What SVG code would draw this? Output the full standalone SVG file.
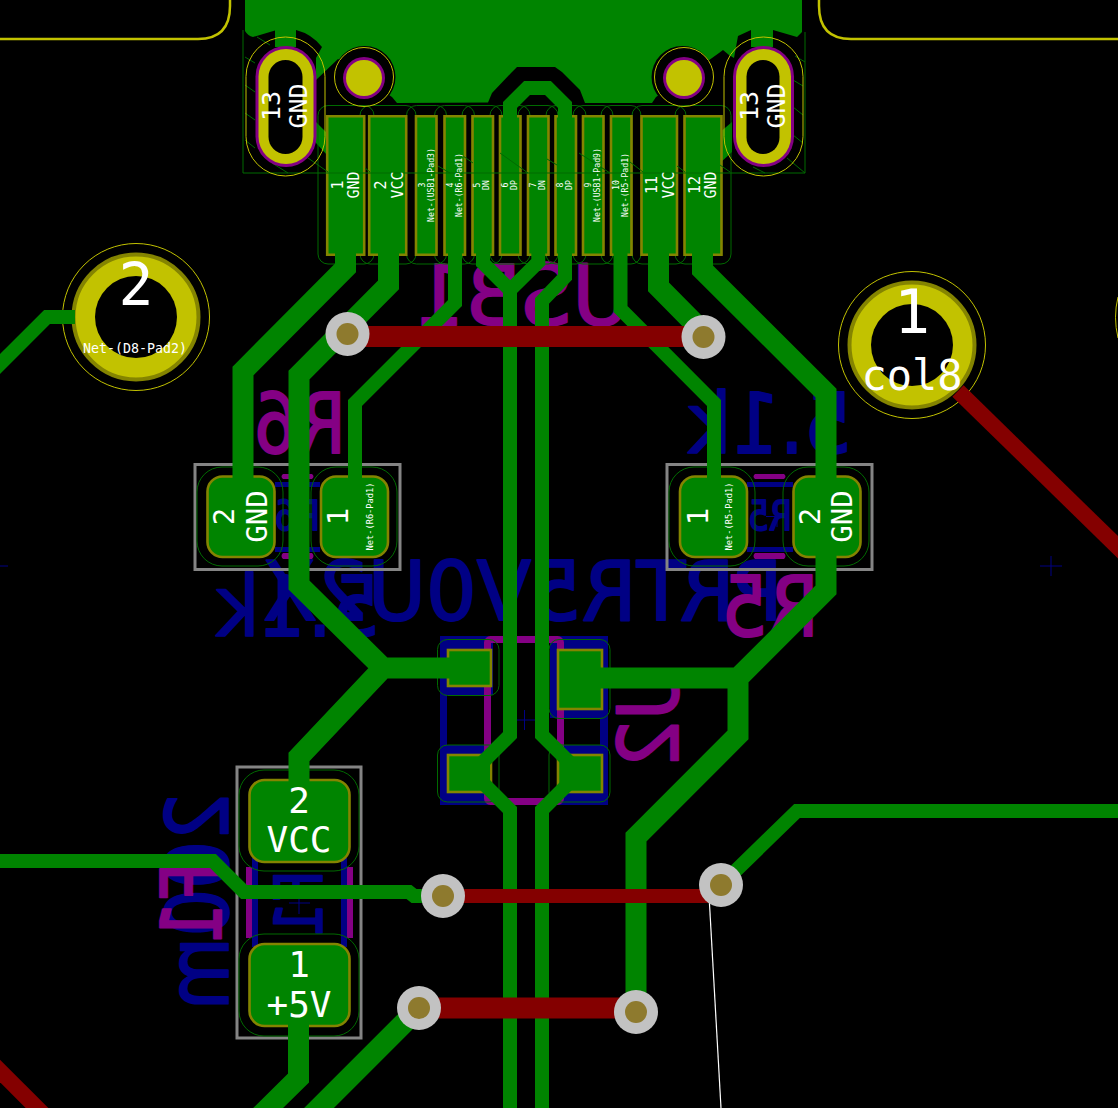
<svg xmlns="http://www.w3.org/2000/svg" width="1118" height="1108" viewBox="0 0 1118 1108">
<style>
.bg{fill:#000}
.si{font-family:"DejaVu Sans",sans-serif;stroke-linejoin:round}
.bl{fill:#000084;stroke:#000084;stroke-width:2}
.pu{fill:#840084;stroke:#840084;stroke-width:2}
.bs{fill:none;stroke:#000084;stroke-width:7;stroke-linecap:round}
.ps{fill:none;stroke:#840084;stroke-width:7;stroke-linecap:round}
.cy{fill:none;stroke:#006a00;stroke-width:1}
.yl{fill:none;stroke:#c2c200;stroke-width:1}
.edge{fill:none;stroke:#c2c200;stroke-width:2.5}
.gr{fill:none;stroke:#848484;stroke-width:3}
.pad{fill:#008400;stroke:#848400;stroke-width:2.6}
.cu{fill:none;stroke:#008400;stroke-linejoin:miter}
.fcu{fill:none;stroke:#840000}
.th{fill:#c2c200}
.zone{fill:#008400}
.viaO{fill:#c2c2c2}
.viaI{fill:#8e7a2e}
text.l{font-family:"DejaVu Sans Mono","Liberation Mono",monospace;fill:#fff;text-anchor:middle}
.hatch{fill:none;stroke:#006a00;stroke-width:1}
</style>
<rect class="bg" width="1118" height="1108"/>

<g id="silk-back">
<path class="edge" d="M0,39H198Q230,39 230,6V0"/>
<path class="edge" d="M819,0V6Q819,39 851,39H1118"/>
<path class="yl" d="M1118,297Q1113,317 1118,338"/>
<path class="cy" style="stroke:#000084" d="M1040,566H1062M1051,556V576M0,566H8M514,720H535M524.500,710V730M289,903H310M299,899V914M766,516.500H788M777,506V527"/>
<text class="si bl" font-size="82" transform="translate(783,620) scale(-1,1)" textLength="520" lengthAdjust="spacingAndGlyphs">PRTR5V0U2X</text>
<text class="si bl" font-size="84" transform="translate(852,453) scale(-1,1)" textLength="164" lengthAdjust="spacingAndGlyphs">5.1k</text>
<text class="si bl" font-size="84" transform="translate(380,636) scale(-1,1)" textLength="164" lengthAdjust="spacingAndGlyphs">5.1k</text>
<text class="si bl" font-size="40" transform="translate(320,530) scale(-1,1)" textLength="45" lengthAdjust="spacingAndGlyphs">R6</text>
<text class="si bl" font-size="40" transform="translate(792,530) scale(-1,1)" textLength="44" lengthAdjust="spacingAndGlyphs">R5</text>
<text class="si bl" font-size="85" transform="translate(228,793) rotate(-90) scale(-1,1)" textLength="217" lengthAdjust="spacingAndGlyphs">200m</text>
<text class="si bl" font-size="66" transform="translate(322,870) rotate(-90) scale(-1,1)" textLength="68" lengthAdjust="spacingAndGlyphs">F1</text>
<path fill="#000084" d="M275,482H320V487H275ZM275,547H320V552H275ZM747,482H793V487H747ZM747,547H793V552H747ZM252,858H258V947H252ZM341,858H347V947H341Z"/>
<path fill="#000084" d="M440,636H493V695H447V745H492V805H440ZM550,636H608V805H557V745H600V718H550Z"/>
<text class="si pu" font-size="84" transform="translate(346,453) scale(-1,1)" textLength="92" lengthAdjust="spacingAndGlyphs">R6</text>
<text class="si pu" font-size="84" transform="translate(819,636) scale(-1,1)" textLength="98" lengthAdjust="spacingAndGlyphs">R5</text>
<text class="si pu" font-size="84" transform="translate(631,325) scale(-1,1)" textLength="216" lengthAdjust="spacingAndGlyphs">USB1</text>
<text class="si pu" font-size="84" transform="translate(678,665) rotate(-90) scale(-1,1)" textLength="103" lengthAdjust="spacingAndGlyphs">U2</text>
<text class="si pu" font-size="84" transform="translate(221,862) rotate(-90) scale(-1,1)" textLength="83" lengthAdjust="spacingAndGlyphs">F1</text>
<path fill="#840084" d="M283,474H312Q315,476.500 312,479H283Q280,476.500 283,474ZM283,553H312Q315,556 312,559H283Q280,556 283,553ZM755,474H784Q787,476.500 784,479H755Q752,476.500 755,474ZM755,553H784Q787,556 784,559H755Q752,556 755,553ZM246,867H252V938H246ZM347,867H353V938H347Z"/>
<rect class="ps" x="487.500" y="639.500" width="73" height="162" rx="3"/>
</g>

<g id="zone">
<path class="zone" d="M245,0H802V32L797,37L773,30V47H751V30L738,36L734,58L729,55L723,50L719,53L684,78L656,97L652,103H585L580,90L562,72L555,67H517L512,72L492,93L488,102.500L397,103L392,97L364,78L338,59L316,80V58L322,47A48,48 0 0 0 296,30V47H275V30.500L253,37Q248,36 245,31ZM316,122L327,133V155L316,143ZM719,133L732,122V152L720,163Z"/>
<circle cx="364.500" cy="77" r="31" fill="#000"/>
<circle cx="682.500" cy="77" r="31" fill="#000"/>
</g>

<g id="USB1">
<g>
<rect class="cy" x="318" y="105.500" width="56" height="158.500" rx="10"/>
<rect class="cy" x="360" y="105.500" width="56" height="158.500" rx="10"/>
<rect class="cy" x="406.500" y="105.500" width="40" height="158.500" rx="10"/>
<rect class="cy" x="434.500" y="105.500" width="40" height="158.500" rx="10"/>
<rect class="cy" x="462" y="105.500" width="40" height="158.500" rx="10"/>
<rect class="cy" x="490" y="105.500" width="40" height="158.500" rx="10"/>
<rect class="cy" x="518" y="105.500" width="40" height="158.500" rx="10"/>
<rect class="cy" x="546" y="105.500" width="40" height="158.500" rx="10"/>
<rect class="cy" x="573" y="105.500" width="40" height="158.500" rx="10"/>
<rect class="cy" x="601" y="105.500" width="40" height="158.500" rx="10"/>
<rect class="cy" x="632" y="105.500" width="54" height="158.500" rx="10"/>
<rect class="cy" x="675" y="105.500" width="56" height="158.500" rx="10"/>
</g>
<path class="pad" d="M327.200,116.200H364.200V254.800H327.200ZM369.200,116.200H406.200V254.800H369.200ZM416,116.200H436.500V254.800H416ZM444.500,116.200H465V254.800H444.500ZM472.500,116.200H493V254.800H472.500ZM500,116.200H520.500V254.800H500ZM528,116.200H548.500V254.800H528ZM555.500,116.200H576V254.800H555.500ZM583,116.200H603.500V254.800H583ZM611,116.200H631.500V254.800H611ZM641.500,116.200H677V254.800H641.500ZM684.500,116.200H721.500V254.800H684.500Z"/>
<path class="hatch" d="M243,30V173H805V32M257,37L270,45M245,57L255,63M245,85L255,92M245,113L255,120M245,140L255,148M272,163L288,173M308,158L328,172M365,168L370,172M438,166L450,173M463,156L473,163M500,153L528,173M547,159L557,165M579,153L610,173M630,162L643,172M677,166L685,172M720,165L730,172M753,167L765,173M787,158L805,173M793,80L803,86M793,107L803,115M793,135L803,143M795,56L805,62"/>
<g>
<rect x="255.500" y="46" width="61" height="121" rx="30.500" fill="#840084"/>
<rect x="258.500" y="49" width="55" height="115" rx="27.500" class="th"/>
<rect x="268.500" y="60" width="34" height="94" rx="17" fill="#000"/>
<rect class="yl" x="246" y="37" width="79" height="139" rx="39.500"/>
<rect x="733" y="46" width="61" height="121" rx="30.500" fill="#840084"/>
<rect x="736" y="49" width="55" height="115" rx="27.500" class="th"/>
<rect x="746.500" y="60" width="33" height="94" rx="16.500" fill="#000"/>
<rect class="yl" x="724" y="37" width="79" height="139" rx="39.500"/>
</g>
<g>
<circle cx="364" cy="78" r="21" fill="#840084"/><circle cx="364" cy="78" r="18" class="th"/><circle cx="364" cy="77" r="29.500" class="yl"/>
<circle cx="684" cy="78" r="21" fill="#840084"/><circle cx="684" cy="78" r="18" class="th"/><circle cx="684" cy="77" r="29.500" class="yl"/>
</g>
</g>

<g id="R6">
<rect class="gr" x="195" y="464.500" width="205" height="105"/>
<rect class="cy" x="197" y="467" width="86" height="99" rx="25"/>
<rect class="cy" x="311" y="467" width="86" height="99" rx="25"/>
<rect class="pad" x="207.500" y="476.500" width="67" height="80.500" rx="15"/>
<rect class="pad" x="321" y="476.500" width="67" height="80.500" rx="15"/>
</g>
<g id="R5">
<rect class="gr" x="667" y="464.500" width="205" height="105"/>
<rect class="cy" x="669" y="467" width="86" height="99" rx="25"/>
<rect class="cy" x="783" y="467" width="86" height="99" rx="25"/>
<rect class="pad" x="680" y="476.500" width="67" height="80.500" rx="15"/>
<rect class="pad" x="793.500" y="476.500" width="67" height="80.500" rx="15"/>
</g>
<g id="F1">
<rect class="gr" x="237" y="767" width="124" height="271"/>
<rect class="cy" x="239" y="770" width="120" height="101" rx="25"/>
<rect class="cy" x="239" y="934" width="120" height="102" rx="25"/>
<rect class="pad" x="249.500" y="780" width="100" height="82" rx="15"/>
<rect class="pad" x="249.500" y="944" width="100" height="82" rx="15"/>
</g>
<g id="U2">
<rect class="cy" x="437.500" y="639.500" width="61.500" height="56" rx="10"/>
<rect class="cy" x="549" y="639.500" width="61" height="79" rx="10"/>
<rect class="cy" x="437.500" y="745" width="61.500" height="57" rx="10"/>
<rect class="cy" x="549" y="745" width="61" height="57" rx="10"/>
<rect class="pad" x="448" y="650" width="43" height="36"/>
<rect class="pad" x="558" y="650" width="44" height="59"/>
<rect class="pad" x="448" y="755" width="43" height="37"/>
<rect class="pad" x="558" y="755" width="44" height="37"/>
</g>
<g id="D8-Pad2">
<circle cx="136" cy="317" r="62.500" fill="#c2c200" stroke="#848400" stroke-width="4"/>
<circle cx="136" cy="317" r="41" fill="#000"/>
<circle cx="136" cy="317" r="73.500" class="yl"/>
</g>
<g id="col8-Pad1">
<circle cx="912" cy="345" r="62.500" fill="#c2c200" stroke="#848400" stroke-width="4"/>
<circle cx="912" cy="345" r="41" fill="#000"/>
<circle cx="912" cy="345" r="73.500" class="yl"/>
</g>

<g id="connectors">
<g class="cu" stroke-width="21">
<path d="M345.500,250V268L243,371V480"/>
<path d="M388.500,250V285L299,375V585L383,668H455M383,668L299,757V795"/>
<path d="M702.500,250V270L826,393V590L738,678H580M738,678V735L636,837V1012"/>
<path d="M658.500,250V287L703,332"/>
<path d="M298.500,1020V1078L260,1116"/>
<path d="M419,1008L311,1116"/>
</g>
<g class="cu" stroke-width="14">
<path d="M455,250V303L355,403V480"/>
<path d="M620.500,250V309L714,403V480"/>
<path d="M483,250V263L510,290M538.300,250V262L510,290V735L483,762V783L510,810V1108"/>
<path d="M510,120V105L527,88H548L565,105V120M565,250V277L542,301V735L569,762V783L542,810V1108"/>
<path d="M0,861H213L244,892H409L414,896H443"/>
<path d="M721,885L797,811H1118"/>
<path d="M-12,376L47,317H75"/>
</g>
<g class="fcu">
<path stroke-width="21" d="M347,334L350,336.500H703"/>
<path stroke-width="14" d="M443,896H706L721,885"/>
<path stroke-width="21" d="M419,1008H636"/>
<path stroke-width="16" d="M958,391L1130,559"/>
<path stroke-width="16" d="M-12,1059L62,1133"/>
</g>
<path d="M709,895L721,1108" fill="none" stroke="#fff" stroke-width="1.200"/>
</g>

<g id="vias">
<g id="via1"><circle class="viaO" cx="347.500" cy="334" r="22"/><circle class="viaI" cx="347.500" cy="334" r="11"/></g>
<g id="via2"><circle class="viaO" cx="703.500" cy="337" r="22"/><circle class="viaI" cx="703.500" cy="337" r="11"/></g>
<g id="via3"><circle class="viaO" cx="443" cy="896" r="22"/><circle class="viaI" cx="443" cy="896" r="11"/></g>
<g id="via4"><circle class="viaO" cx="721" cy="885" r="22"/><circle class="viaI" cx="721" cy="885" r="11"/></g>
<g id="via5"><circle class="viaO" cx="419" cy="1008" r="22"/><circle class="viaI" cx="419" cy="1008" r="11"/></g>
<g id="via6"><circle class="viaO" cx="636" cy="1012" r="22"/><circle class="viaI" cx="636" cy="1012" r="11"/></g>
</g>

<g id="pad-labels">
<text class="l" font-size="25" transform="translate(280,106) rotate(-90)">13</text>
<text class="l" font-size="25" transform="translate(307,106) rotate(-90)">GND</text>
<text class="l" font-size="25" transform="translate(758,106) rotate(-90)">13</text>
<text class="l" font-size="25" transform="translate(785,106) rotate(-90)">GND</text>
<text class="l" font-size="15" transform="translate(343,185) rotate(-90)">1</text>
<text class="l" font-size="15" transform="translate(359,185) rotate(-90)">GND</text>
<text class="l" font-size="15" transform="translate(386,185) rotate(-90)">2</text>
<text class="l" font-size="15" transform="translate(403,185) rotate(-90)">VCC</text>
<text class="l" font-size="8.200" transform="translate(425,185) rotate(-90)">3</text>
<text class="l" font-size="8.200" transform="translate(434,185) rotate(-90)">Net-(USB1-Pad3)</text>
<text class="l" font-size="8.200" transform="translate(452.700,185) rotate(-90)">4</text>
<text class="l" font-size="8.200" transform="translate(461.700,185) rotate(-90)">Net-(R6-Pad1)</text>
<text class="l" font-size="8.200" transform="translate(480,185) rotate(-90)">5</text>
<text class="l" font-size="8.200" transform="translate(489,185) rotate(-90)">DN</text>
<text class="l" font-size="8.200" transform="translate(507.700,185) rotate(-90)">6</text>
<text class="l" font-size="8.200" transform="translate(516.700,185) rotate(-90)">DP</text>
<text class="l" font-size="8.200" transform="translate(535.700,185) rotate(-90)">7</text>
<text class="l" font-size="8.200" transform="translate(545,185) rotate(-90)">DN</text>
<text class="l" font-size="8.200" transform="translate(563.300,185) rotate(-90)">8</text>
<text class="l" font-size="8.200" transform="translate(572.300,185) rotate(-90)">DP</text>
<text class="l" font-size="8.200" transform="translate(591,185) rotate(-90)">9</text>
<text class="l" font-size="8.200" transform="translate(600.300,185) rotate(-90)">Net-(USB1-Pad9)</text>
<text class="l" font-size="8.200" transform="translate(618.700,185) rotate(-90)">10</text>
<text class="l" font-size="8.200" transform="translate(628.300,185) rotate(-90)">Net-(R5-Pad1)</text>
<text class="l" font-size="15" transform="translate(656.700,185) rotate(-90)">11</text>
<text class="l" font-size="15" transform="translate(674,185) rotate(-90)">VCC</text>
<text class="l" font-size="15" transform="translate(700,185) rotate(-90)">12</text>
<text class="l" font-size="15" transform="translate(716,185) rotate(-90)">GND</text>
<text class="l" font-size="29" transform="translate(234,516.500) rotate(-90)">2</text>
<text class="l" font-size="29" transform="translate(266.700,516.500) rotate(-90)">GND</text>
<text class="l" font-size="29" transform="translate(347.700,516.500) rotate(-90)">1</text>
<text class="l" font-size="8.700" transform="translate(373.300,516.500) rotate(-90)">Net-(R6-Pad1)</text>
<text class="l" font-size="29" transform="translate(707.700,516.500) rotate(-90)">1</text>
<text class="l" font-size="8.700" transform="translate(732.300,516.500) rotate(-90)">Net-(R5-Pad1)</text>
<text class="l" font-size="29" transform="translate(820,516.500) rotate(-90)">2</text>
<text class="l" font-size="29" transform="translate(852.300,516.500) rotate(-90)">GND</text>
<text class="l" font-size="36" x="299" y="812.700">2</text>
<text class="l" font-size="36" x="299" y="851.700">VCC</text>
<text class="l" font-size="36" x="299" y="976.700">1</text>
<text class="l" font-size="36" x="299" y="1016.700">+5V</text>
<text class="l" font-size="58" x="136" y="305">2</text>
<text class="l" font-size="13.300" x="135" y="352.700">Net-(D8-Pad2)</text>
<text class="l" font-size="60" x="912" y="333">1</text>
<text class="l" font-size="42" x="912" y="390">col8</text>
</g>
</svg>
